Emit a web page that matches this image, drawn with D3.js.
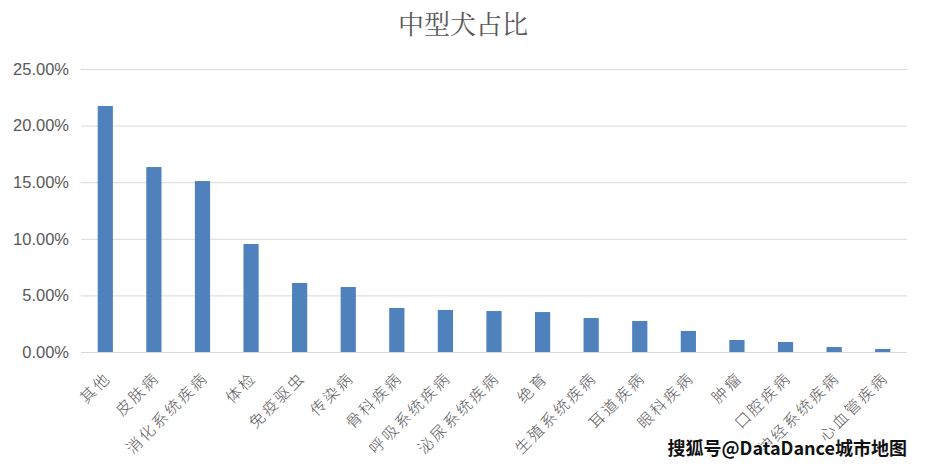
<!DOCTYPE html>
<html><head><meta charset="utf-8">
<script src="https://cdn.jsdelivr.net/npm/d3@7"></script>
<style>body{margin:0;background:#fff}svg{display:block}</style>
</head><body>
<script>
const categories = ["其他","皮肤病","消化系统疾病","体检","免疫驱虫","传染病","骨科疾病","呼吸系统疾病","泌尿系统疾病","绝育","生殖系统疾病","耳道疾病","眼科疾病","肿瘤","口腔疾病","神经系统疾病","心血管疾病"];
const values = [21.73,16.34,15.10,9.54,6.10,5.74,3.89,3.71,3.62,3.53,3.00,2.74,1.86,1.06,0.88,0.44,0.27];
const yTicks = [0,5,10,15,20,25];
const title = "中型犬占比";
const watermark = "搜狐号@DataDance城市地图";

const W=927,H=469;
const svg=d3.select("body").append("svg").attr("width",W).attr("height",H);
const x=d3.scaleBand().domain(categories).range([81,907]).paddingInner(0.687).paddingOuter(0.3435);
const y=d3.scaleLinear().domain([0,25]).range([352,69]);

svg.append("g").selectAll("line").data(yTicks).join("line")
  .attr("x1",81).attr("x2",907).attr("y1",d=>y(d)+0.5).attr("y2",d=>y(d)+0.5)
  .attr("stroke","#d9d9d9").attr("stroke-width",1);

const yAxis=d3.axisLeft(y).tickValues(yTicks).tickSize(0).tickPadding(0).tickFormat(d=>d.toFixed(2)+"%");
svg.append("g").attr("transform","translate(69,0)").call(yAxis)
  .call(g=>g.select(".domain").remove())
  .call(g=>g.selectAll("text").attr("font-family","Arial, 'Liberation Sans', sans-serif").attr("font-size",16.5).attr("fill","#595959"));

svg.append("g").selectAll("rect").data(values).join("rect")
  .attr("x",(d,i)=>x(categories[i])).attr("width",x.bandwidth())
  .attr("y",d=>y(d)).attr("height",d=>y(0)-y(d)).attr("fill","#4f81bd");

svg.append("g").selectAll("text").data(categories).join("text")
  .attr("transform",d=>`translate(${x(d)+x.bandwidth()/2-1},${371}) rotate(-45)`)
  .attr("text-anchor","end").attr("dy","0.7em")
  .attr("font-family","'Noto Sans CJK SC', sans-serif").attr("font-size",15.5).attr("font-weight",300)
  .attr("letter-spacing",2.5)
  .attr("fill","#595959").text(d=>d);

svg.append("text").attr("x",463).attr("y",34).attr("text-anchor","middle")
  .attr("font-family","'Noto Serif CJK SC','Noto Sans CJK SC', serif").attr("font-size",26)
  .attr("fill","#595959").text(title);

svg.append("text").attr("x",907).attr("y",455).attr("text-anchor","end")
  .attr("font-family","'Noto Sans CJK SC', sans-serif").attr("font-size",18).attr("font-weight",700)
  .attr("fill","#111").attr("stroke","#fff").attr("stroke-width",2).attr("paint-order","stroke")
  .text(watermark);
</script>
</body></html>
